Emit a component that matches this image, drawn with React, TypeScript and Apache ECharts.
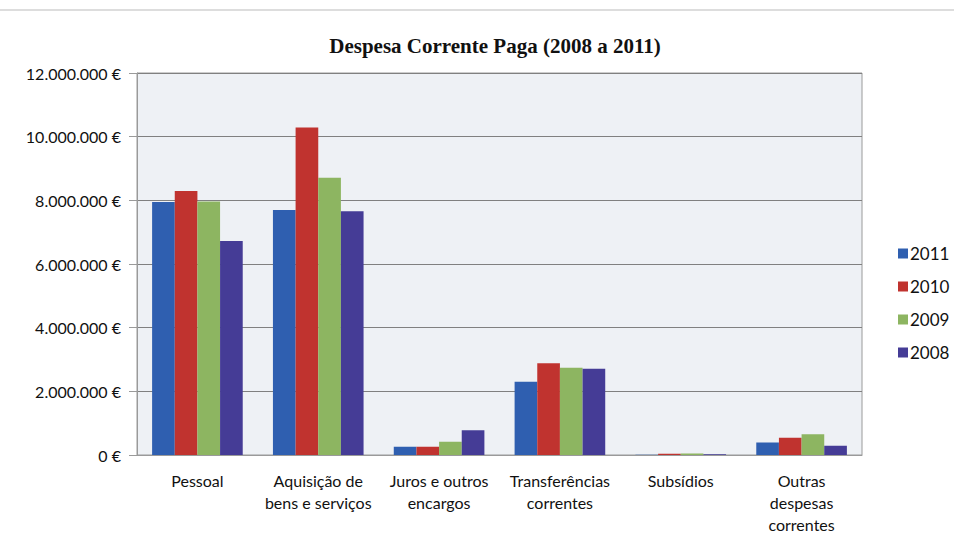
import React, { useEffect, useRef } from "react";
import * as echarts from "echarts";

const categories = [
  "Pessoal",
  "Aquisição de\nbens e serviços",
  "Juros e outros\nencargos",
  "Transferências\ncorrentes",
  "Subsídios",
  "Outras\ndespesas\ncorrentes",
];

const seriesNames = ["2011", "2010", "2009", "2008"];

const values2011 = [7950000, 7700000, 260000, 2300000, 5000, 390000];
const values2010 = [8290000, 10290000, 260000, 2880000, 40000, 540000];
const values2009 = [7960000, 8710000, 420000, 2740000, 50000, 650000];
const values2008 = [6720000, 7660000, 780000, 2710000, 20000, 290000];

const yTicks = [0, 2000000, 4000000, 6000000, 8000000, 10000000, 12000000];

const colors = ["#2f5fb0", "#c0332f", "#8db561", "#453c96"];

const formatEuro = (v: number) =>
  String(Math.round(v)).replace(/\B(?=(\d{3})+(?!\d))/g, ".") + " €";

export default function App() {
  const ref = useRef<HTMLDivElement>(null);

  useEffect(() => {
    if (!ref.current) return;
    const chart = echarts.init(ref.current, undefined, { renderer: "svg" });
    const allValues = [values2011, values2010, values2009, values2008];
    const font = "Lato, 'Liberation Sans', sans-serif";

    chart.setOption({
      animation: false,
      backgroundColor: "#ffffff",
      title: {
        text: "Despesa Corrente Paga (2008 a 2011)",
        left: 490,
        textAlign: "center",
        top: 30,
        textStyle: {
          fontFamily: "'Liberation Serif', serif",
          fontWeight: "bold",
          fontSize: 21,
          color: "#111",
        },
      },
      legend: {
        orient: "vertical",
        left: 893,
        top: 240,
        itemWidth: 10,
        itemHeight: 10,
        itemGap: 16,
        icon: "rect",
        data: seriesNames,
        textStyle: { fontFamily: font, fontSize: 17, color: "#111", padding: [0, 0, 0, -3] },
      },
      graphic: [
        {
          type: "line",
          shape: { x1: 0, y1: 10, x2: 954, y2: 10 },
          style: { stroke: "#bbbbbb", lineWidth: 1 },
        },
      ],
      grid: {
        left: 137,
        right: 92,
        top: 73,
        bottom: 87,
        show: true,
        backgroundColor: "#eef1f5",
        borderColor: "#9a9a9a",
        borderWidth: 1,
      },
      xAxis: {
        type: "category",
        data: categories,
        axisLine: { lineStyle: { color: "#9a9a9a" } },
        axisTick: { show: false },
        axisLabel: {
          fontFamily: font,
          fontSize: 16,
          color: "#111",
          lineHeight: 22,
          margin: 14,
          interval: 0,
        },
      },
      yAxis: {
        type: "value",
        min: yTicks[0],
        max: yTicks[yTicks.length - 1],
        interval: yTicks[1] - yTicks[0],
        axisLine: { show: true, lineStyle: { color: "#9a9a9a" } },
        axisTick: { show: true, length: 8, lineStyle: { color: "#9a9a9a" } },
        splitLine: { lineStyle: { color: "#808080", width: 1 } },
        axisLabel: {
          fontFamily: font,
          fontSize: 16,
          color: "#111",
          margin: 16,
          formatter: (v: number) => formatEuro(v),
        },
      },
      series: seriesNames.map((name, i) => ({
        name,
        type: "bar",
        data: allValues[i],
        itemStyle: { color: colors[i] },
        barGap: "0%",
        barCategoryGap: "25%",
      })),
    });

    return () => chart.dispose();
  }, []);

  return (
    <div
      ref={ref}
      style={{ position: "fixed", left: 0, top: 0, width: 954, height: 542 }}
    />
  );
}
